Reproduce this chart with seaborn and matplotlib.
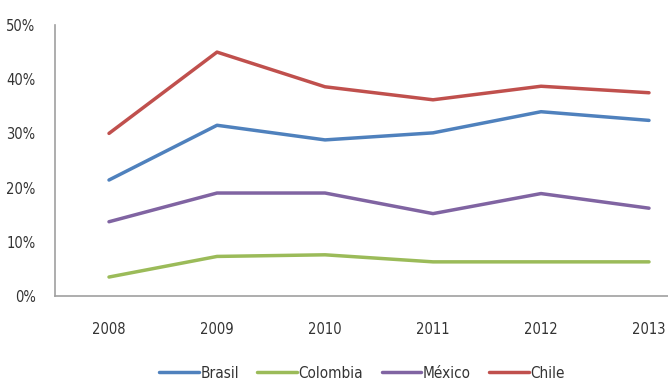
import matplotlib
matplotlib.use("Agg")
import matplotlib.pyplot as plt
import seaborn as sns
import pandas as pd
from matplotlib.ticker import PercentFormatter
from matplotlib.lines import Line2D

years = ["2008", "2009", "2010", "2011", "2012", "2013"]
brasil = [21.4, 31.5, 28.8, 30.1, 34.0, 32.4]
colombia = [3.5, 7.3, 7.6, 6.3, 6.3, 6.3]
mexico = [13.7, 19.0, 19.0, 15.2, 18.9, 16.2]
chile = [30.0, 45.0, 38.6, 36.2, 38.7, 37.5]
series_names = ["Brasil", "Colombia", "México", "Chile"]
colors = ["#4F81BD", "#9BBB59", "#8064A2", "#C0504D"]

rows = []
for name, vals in zip(series_names, [brasil, colombia, mexico, chile]):
    for i, (y, v) in enumerate(zip(years, vals)):
        rows.append({"idx": i, "year": y, "value": v, "country": name})
df = pd.DataFrame(rows)

sns.set_style("white")
plt.rcParams["font.family"] = ["DejaVu Sans"]
plt.rcParams["font.stretch"] = "condensed"

fig = plt.figure(figsize=(6.68, 3.85), dpi=100)
ax = fig.add_axes([55/668, 1 - 296/385, 1 - 55/668, (296 - 25)/385])

sns.lineplot(data=df, x="idx", y="value", hue="country", hue_order=series_names,
             palette=colors, linewidth=2.5, ax=ax, legend=False)

ax.set_xlim(-0.5, (668 - 109) / 108)
ax.set_ylim(0, 50)
ax.set_yticks([0, 10, 20, 30, 40, 50])
ax.yaxis.set_major_formatter(PercentFormatter(decimals=0))
ax.set_xticks(range(len(years)))
ax.set_xticklabels(years)
ax.set_xlabel("")
ax.set_ylabel("")
ax.tick_params(axis="both", length=0, labelsize=10.5, colors="#333333")
ax.tick_params(axis="x", pad=19)
ax.tick_params(axis="y", pad=14)
for s in ["top", "right"]:
    ax.spines[s].set_visible(False)
for s in ["left", "bottom"]:
    ax.spines[s].set_color("#A0A0A0")
    ax.spines[s].set_linewidth(1.2)

handles = [Line2D([0], [0], color=c, lw=2.5) for c in colors]
fig.legend(handles, series_names, loc="center", bbox_to_anchor=(362/668, 1 - 373/385),
           ncol=4, frameon=False, fontsize=11, handlelength=2.6, handletextpad=0.1,
           columnspacing=1.2, labelcolor="#333333")

fig.savefig("out.png", dpi=100)
